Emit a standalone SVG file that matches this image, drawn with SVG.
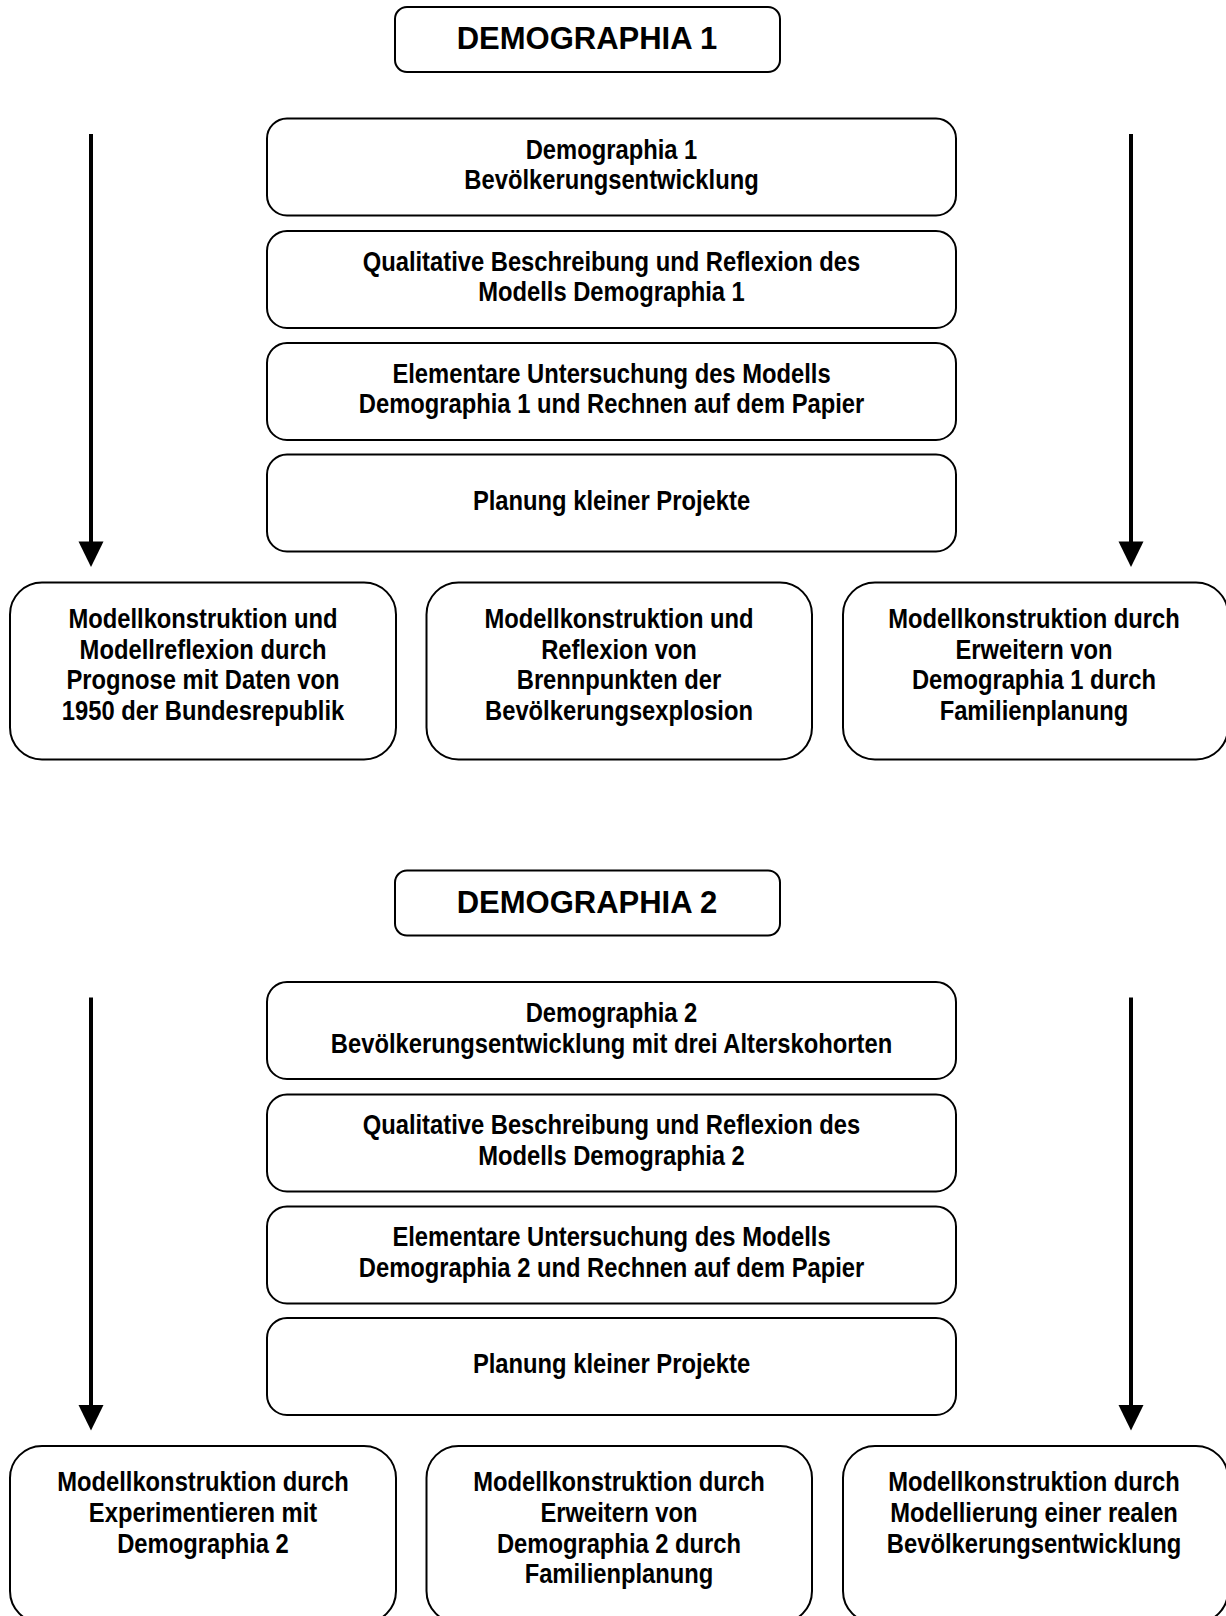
<svg xmlns="http://www.w3.org/2000/svg" width="1226" height="1616" viewBox="0 0 1226 1616">
<defs>
<style>
.bx{fill:#fff;stroke:#000;stroke-width:2}
.tt{font-family:"Liberation Sans",Arial,sans-serif;font-weight:bold;font-size:31px;text-anchor:middle;fill:#000}
.t{font-family:"Liberation Sans",Arial,sans-serif;font-weight:bold;font-size:27px;text-anchor:middle;fill:#000}
.ln{stroke:#000;stroke-width:4;fill:none}
.ah{fill:#000}
</style>
</defs>
<rect width="1226" height="1616" fill="#fff"/>

<g id="connectors">
<line class="ln" x1="91" y1="134" x2="91" y2="545"/>
<polygon class="ah" points="78.5,541.5 103.5,541.5 91,567"/>
<line class="ln" x1="1131" y1="134" x2="1131" y2="545"/>
<polygon class="ah" points="1118.5,541.5 1143.5,541.5 1131,567"/>
<line class="ln" x1="91" y1="997.5" x2="91" y2="1408.5"/>
<polygon class="ah" points="78.5,1405 103.5,1405 91,1430.5"/>
<line class="ln" x1="1131" y1="997.5" x2="1131" y2="1408.5"/>
<polygon class="ah" points="1118.5,1405 1143.5,1405 1131,1430.5"/>
</g>

<g id="title1">
<rect class="bx" x="395" y="7" width="385" height="65" rx="12"/>
<text class="tt" x="587" y="49">DEMOGRAPHIA 1</text>
</g>
<g id="a1">
<rect class="bx" x="267" y="118.5" width="689" height="97" rx="20"/>
<text class="t" transform="matrix(0.88,0,0,1,611.5,0)"><tspan x="0" y="159">Demographia 1</tspan><tspan x="0" y="189.5">Bevölkerungsentwicklung</tspan></text>
</g>
<g id="a2">
<rect class="bx" x="267" y="231" width="689" height="97" rx="20"/>
<text class="t" transform="matrix(0.88,0,0,1,611.5,0)"><tspan x="0" y="271">Qualitative Beschreibung und Reflexion des</tspan><tspan x="0" y="301.5">Modells Demographia 1</tspan></text>
</g>
<g id="a3">
<rect class="bx" x="267" y="343" width="689" height="97" rx="20"/>
<text class="t" transform="matrix(0.88,0,0,1,611.5,0)"><tspan x="0" y="383">Elementare Untersuchung des Modells</tspan><tspan x="0" y="413.5">Demographia 1 und Rechnen auf dem Papier</tspan></text>
</g>
<g id="a4">
<rect class="bx" x="267" y="454.5" width="689" height="97" rx="20"/>
<text class="t" transform="matrix(0.88,0,0,1,611.5,0)"><tspan x="0" y="510">Planung kleiner Projekte</tspan></text>
</g>
<g id="c1">
<rect class="bx" x="10" y="582.5" width="386" height="177" rx="32"/>
<text class="t" transform="matrix(0.88,0,0,1,203,0)"><tspan x="0" y="628">Modellkonstruktion und</tspan><tspan x="0" y="658.6">Modellreflexion durch</tspan><tspan x="0" y="689.2">Prognose mit Daten von</tspan><tspan x="0" y="719.8">1950 der Bundesrepublik</tspan></text>
</g>
<g id="c2">
<rect class="bx" x="426.5" y="582.5" width="385.5" height="177" rx="32"/>
<text class="t" transform="matrix(0.88,0,0,1,619,0)"><tspan x="0" y="628">Modellkonstruktion und</tspan><tspan x="0" y="658.6">Reflexion von</tspan><tspan x="0" y="689.2">Brennpunkten der</tspan><tspan x="0" y="719.8">Bevölkerungsexplosion</tspan></text>
</g>
<g id="c3">
<rect class="bx" x="843" y="582.5" width="385" height="177" rx="32"/>
<text class="t" transform="matrix(0.88,0,0,1,1034,0)"><tspan x="0" y="628">Modellkonstruktion durch</tspan><tspan x="0" y="658.6">Erweitern von</tspan><tspan x="0" y="689.2">Demographia 1 durch</tspan><tspan x="0" y="719.8">Familienplanung</tspan></text>
</g>

<g id="title2">
<rect class="bx" x="395" y="870.5" width="385" height="65" rx="12"/>
<text class="tt" x="587" y="912.5">DEMOGRAPHIA 2</text>
</g>
<g id="b1">
<rect class="bx" x="267" y="982" width="689" height="97" rx="20"/>
<text class="t" transform="matrix(0.88,0,0,1,611.5,0)"><tspan x="0" y="1022.5">Demographia 2</tspan><tspan x="0" y="1053">Bevölkerungsentwicklung mit drei Alterskohorten</tspan></text>
</g>
<g id="b2">
<rect class="bx" x="267" y="1094.5" width="689" height="97" rx="20"/>
<text class="t" transform="matrix(0.88,0,0,1,611.5,0)"><tspan x="0" y="1134.5">Qualitative Beschreibung und Reflexion des</tspan><tspan x="0" y="1165">Modells Demographia 2</tspan></text>
</g>
<g id="b3">
<rect class="bx" x="267" y="1206.5" width="689" height="97" rx="20"/>
<text class="t" transform="matrix(0.88,0,0,1,611.5,0)"><tspan x="0" y="1246.5">Elementare Untersuchung des Modells</tspan><tspan x="0" y="1277">Demographia 2 und Rechnen auf dem Papier</tspan></text>
</g>
<g id="b4">
<rect class="bx" x="267" y="1318" width="689" height="97" rx="20"/>
<text class="t" transform="matrix(0.88,0,0,1,611.5,0)"><tspan x="0" y="1373.5">Planung kleiner Projekte</tspan></text>
</g>
<g id="d1">
<rect class="bx" x="10" y="1446" width="386" height="177" rx="32"/>
<text class="t" transform="matrix(0.88,0,0,1,203,0)"><tspan x="0" y="1491.5">Modellkonstruktion durch</tspan><tspan x="0" y="1522.1">Experimentieren mit</tspan><tspan x="0" y="1552.7">Demographia 2</tspan></text>
</g>
<g id="d2">
<rect class="bx" x="426.5" y="1446" width="385.5" height="177" rx="32"/>
<text class="t" transform="matrix(0.88,0,0,1,619,0)"><tspan x="0" y="1491.5">Modellkonstruktion durch</tspan><tspan x="0" y="1522.1">Erweitern von</tspan><tspan x="0" y="1552.7">Demographia 2 durch</tspan><tspan x="0" y="1583.3">Familienplanung</tspan></text>
</g>
<g id="d3">
<rect class="bx" x="843" y="1446" width="385" height="177" rx="32"/>
<text class="t" transform="matrix(0.88,0,0,1,1034,0)"><tspan x="0" y="1491.5">Modellkonstruktion durch</tspan><tspan x="0" y="1522.1">Modellierung einer realen</tspan><tspan x="0" y="1552.7">Bevölkerungsentwicklung</tspan></text>
</g>
</svg>
